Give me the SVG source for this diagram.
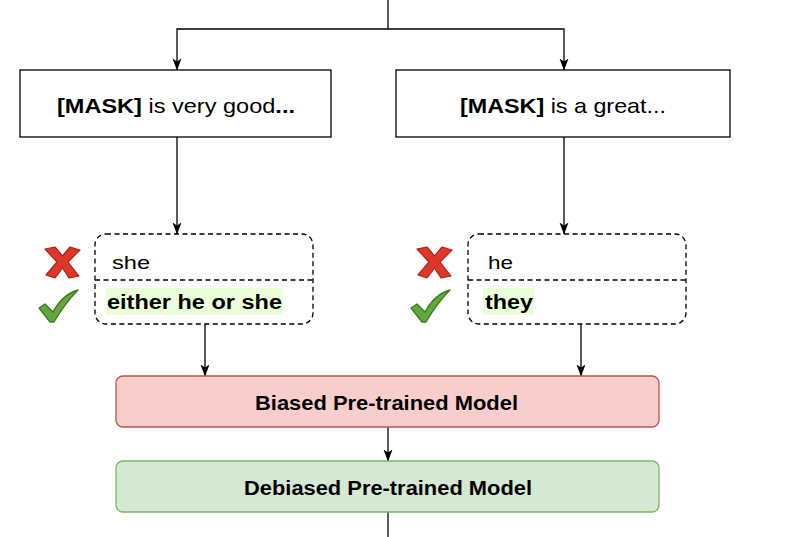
<svg xmlns="http://www.w3.org/2000/svg" width="800" height="537" viewBox="0 0 800 537">
<style>
.box{fill:#fff;stroke:#000;stroke-width:1.3}
.dash{fill:#fff;stroke:#000;stroke-width:1.3;stroke-dasharray:5 3.5}
.edge{fill:none;stroke:#000;stroke-width:1.3}
text{font-family:"Liberation Sans",Arial,Helvetica,sans-serif;fill:#000}
.b{font-weight:bold}
.hl{fill:#eaffd9}
</style>
<defs>
<marker id="arr" viewBox="0 0 12 10" refX="11.5" refY="5" markerWidth="12" markerHeight="10" markerUnits="userSpaceOnUse" orient="auto">
<path d="M0,0.5 L12,5 L0,9.5 L3,5 Z" fill="#000"/>
</marker>
<g id="xmark">
<path d="M0,2 L10,0 L17.5,9 L25,0 L35,3 L23,15 L34,29 L24,31 L17.5,21 L10,31 L1,28 L12,15 Z" fill="#e0362a" stroke="#a82419" stroke-width="1.2" stroke-linejoin="round"/>
</g>
<g id="check">
<path d="M0,18 L6,14 L14,22 C20,11 28,3 39,0 C30,9 22,20 15,32 L11,32 Z" fill="#63a83d" stroke="#3f7a22" stroke-width="1.3" stroke-linejoin="round"/>
</g>
</defs>
<g id="connectors">
<path class="edge" d="M388,0 V29"/>
<path class="edge" d="M388,29 H177 V70" marker-end="url(#arr)"/>
<path class="edge" d="M388,29 H564 V70" marker-end="url(#arr)"/>
<path class="edge" d="M177,137 V234" marker-end="url(#arr)"/>
<path class="edge" d="M564,137 V234" marker-end="url(#arr)"/>
<path class="edge" d="M205,324 V376" marker-end="url(#arr)"/>
<path class="edge" d="M581,324 V376" marker-end="url(#arr)"/>
<path class="edge" d="M388,427 V461" marker-end="url(#arr)"/>
<path class="edge" d="M388,512 V537"/>
</g>
<g id="node-mask1">
<rect class="box" x="20" y="70" width="311" height="67"/>
<text x="57" y="113" font-size="21" textLength="238" lengthAdjust="spacingAndGlyphs"><tspan class="b">[MASK]</tspan> is very good<tspan class="b">...</tspan></text>
</g>
<g id="node-mask2">
<rect class="box" x="396" y="70" width="334" height="67"/>
<text x="460" y="113" font-size="21" textLength="206" lengthAdjust="spacingAndGlyphs"><tspan class="b">[MASK]</tspan> is a great...</text>
</g>
<g id="node-cand1">
<rect class="dash" x="95" y="234" width="218" height="90" rx="11"/>
<path class="dash" d="M95,280 H313" fill="none"/>
<rect class="hl" x="106" y="288" width="177" height="27"/>
<text x="112" y="269" font-size="19" textLength="38" lengthAdjust="spacingAndGlyphs">she</text>
<text class="b" x="107" y="309" font-size="19.5" textLength="175" lengthAdjust="spacingAndGlyphs">either he or she</text>
<use href="#xmark" x="45" y="247"/>
<use href="#check" x="39" y="290"/>
</g>
<g id="node-cand2">
<rect class="dash" x="468" y="234" width="218" height="90" rx="11"/>
<path class="dash" d="M468,280 H686" fill="none"/>
<rect class="hl" x="483" y="288" width="51" height="27"/>
<text x="488" y="269" font-size="19" textLength="25" lengthAdjust="spacingAndGlyphs">he</text>
<text class="b" x="485" y="309" font-size="19.5" textLength="48" lengthAdjust="spacingAndGlyphs">they</text>
<use href="#xmark" x="417" y="247"/>
<use href="#check" x="411" y="290"/>
</g>
<g id="node-biased">
<rect x="116" y="376" width="543" height="51" rx="7" fill="#f8cecc" stroke="#b85450" stroke-width="1.3"/>
<text class="b" x="255" y="410" font-size="19.5" textLength="263" lengthAdjust="spacingAndGlyphs">Biased Pre-trained Model</text>
</g>
<g id="node-debiased">
<rect x="116" y="461" width="543" height="51" rx="7" fill="#d5e8d4" stroke="#82b366" stroke-width="1.3"/>
<text class="b" x="244" y="495" font-size="19.5" textLength="288" lengthAdjust="spacingAndGlyphs">Debiased Pre-trained Model</text>
</g>
</svg>
